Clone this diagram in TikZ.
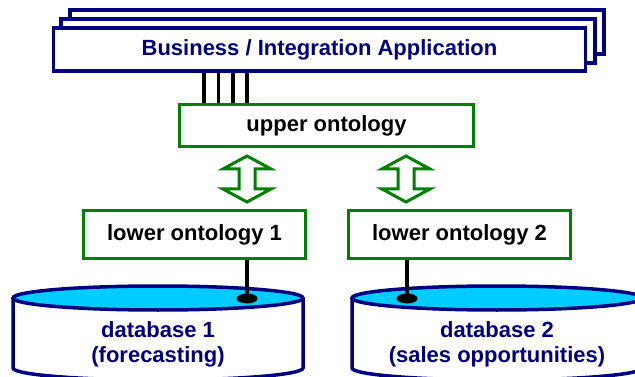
\documentclass[tikz,border=0pt]{standalone}
\usepackage{fontspec}
\setmainfont{Liberation Sans}
\usetikzlibrary{shapes.geometric}
\definecolor{navyc}{RGB}{0,0,128}
\definecolor{greenc}{RGB}{0,128,0}
\definecolor{cyanc}{RGB}{0,204,255}
\tikzset{
  appbox/.style={draw=navyc, line width=3.5pt, fill=white, rectangle, inner sep=0pt},
  ontbox/.style={draw=greenc, line width=3.2pt, fill=white, rectangle, inner sep=0pt,
    font=\fontsize{22}{25}\selectfont\bfseries, text=black},
  dbtext/.style={font=\fontsize{22}{25}\selectfont\bfseries, text=navyc, align=center},
  wire/.style={draw=black, line width=3.5pt},
  dblink/.style={draw=black, line width=3.5pt},
  dotnode/.style={ellipse, fill=black, minimum width=21pt, minimum height=10pt, inner sep=0pt},
  dbbody/.style={draw=navyc, line width=3.5pt, fill=white},
  dbtop/.style={draw=navyc, line width=3.5pt, fill=cyanc},
  blockarrow/.style={draw=greenc, line width=3pt, fill=white, line join=miter}
}
\begin{document}
\begin{tikzpicture}[x=1pt,y=-1pt]
\useasboundingbox (0,0) rectangle (635,377);
\clip (0,0) rectangle (635,377);
% stacked application boxes
\draw[appbox] (70,10) rectangle (604,54);
\draw[appbox] (61,19) rectangle (595,63);
\node[appbox, minimum width=532pt, minimum height=43pt,
  font=\fontsize{22}{25}\selectfont\bfseries, text=navyc] (biz) at (319.5,49.5)
  {Business / Integration Application};
% ontology boxes
\node[ontbox, minimum width=294pt, minimum height=42pt] (upper) at (326.5,125.5) {upper ontology};
\node[ontbox, minimum width=222pt, minimum height=48pt] (low1) at (194.5,234.5) {lower ontology 1};
\node[ontbox, minimum width=222pt, minimum height=48pt] (low2) at (459.5,234.5) {lower ontology 2};
% wires between application and upper ontology
\foreach \i/\x in {1/204,2/218.5,3/233,4/247}{
  \coordinate (w\i) at (\x,0);
  \draw[wire] (upper.north -| w\i) -- (biz.south -| w\i);
}
% block double arrows
\foreach \c in {247,406}{
  \draw[blockarrow] (\c,156) -- (\c+24,169) -- (\c+8,169) -- (\c+8,189) -- (\c+24,189)
    -- (\c,202) -- (\c-24,189) -- (\c-8,189) -- (\c-8,169) -- (\c-24,169) -- cycle;
}
% database 1
\draw[dbbody] (13,298) -- (13,368) arc[start angle=180,end angle=360,x radius=145pt,y radius=12pt] -- (303,298);
\draw[dbtop] (158,298) ellipse[x radius=145pt, y radius=12pt];
\node[dbtext] (db1) at (158,344) {database 1\\(forecasting)};
% database 2
\draw[dbbody] (352,298) -- (352,368) arc[start angle=180,end angle=360,x radius=145pt,y radius=12pt] -- (642,298);
\draw[dbtop] (497,298) ellipse[x radius=145pt, y radius=12pt];
\node[dbtext] (db2) at (497,344) {database 2\\(sales opportunities)};
% links
\node[dotnode] (dot1) at (247,298.5) {};
\node[dotnode] (dot2) at (407,298.5) {};
\draw[dblink] (low1.south -| dot1) -- (dot1.center);
\draw[dblink] (low2.south -| dot2) -- (dot2.center);
\end{tikzpicture}
\end{document}
